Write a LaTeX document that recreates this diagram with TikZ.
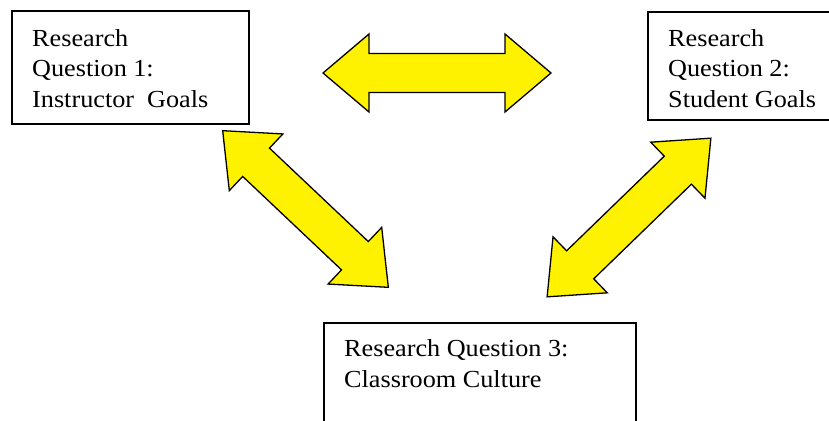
\documentclass[tikz,border=0pt]{standalone}
\usepackage{fontspec}
\setmainfont[FakeStretch=1.07]{Liberation Serif}
\begin{document}
\begin{tikzpicture}[x=1pt,y=1pt,
  qbox/.style={draw=black,line width=1.8pt,fill=white,inner sep=0pt,anchor=north west},
  qtext/.style={inner sep=0pt,anchor=north west,align=left,
    font=\fontsize{24.5}{30.8}\selectfont},
  link/.style={draw=black,line width=1.3pt,fill=yellow,line join=miter}]
  \useasboundingbox (0,0) rectangle (829,420);
  \clip (0,0) rectangle (829,420);
  \fill[white] (0,0) rectangle (829,420);

  % research question boxes
  \node[qbox,minimum width=237pt,minimum height=113pt] (q1) at (11,410) {};
  \node[qbox,minimum width=190pt,minimum height=108pt] (q2) at (647,409) {};
  \node[qbox,minimum width=312pt,minimum height=110pt] (q3) at (323,98) {};

  \node[qtext] (t1) at (32,391) {Research\\Question 1:\\Instructor\ \ Goals};
  \node[qtext] (t2) at (668,391) {Research\\Question 2:\\Student Goals};
  \node[qtext] (t3) at (344,80.5) {Research Question 3:\\Classroom Culture};

  % block double arrows: half length 114, head 46 long, 39 half-wide, shaft 19.5 half-wide
  \def\dblarrow{(-114,0) -- (-68,39) -- (-68,19.5) -- (68,19.5) -- (68,39) -- (114,0)
    -- (68,-39) -- (68,-19.5) -- (-68,-19.5) -- (-68,-39) -- cycle}
  \coordinate (a12) at (437,347);
  \coordinate (a13) at (305.5,211);
  \coordinate (a23) at (629,202.5);
  \begin{scope}[shift={(a12)}]
    \path[link] \dblarrow;
  \end{scope}
  \begin{scope}[shift={(a13)},rotate=-43.4]
    \path[link] \dblarrow;
  \end{scope}
  \begin{scope}[shift={(a23)},rotate=44.1]
    \path[link] \dblarrow;
  \end{scope}
\end{tikzpicture}
\end{document}
